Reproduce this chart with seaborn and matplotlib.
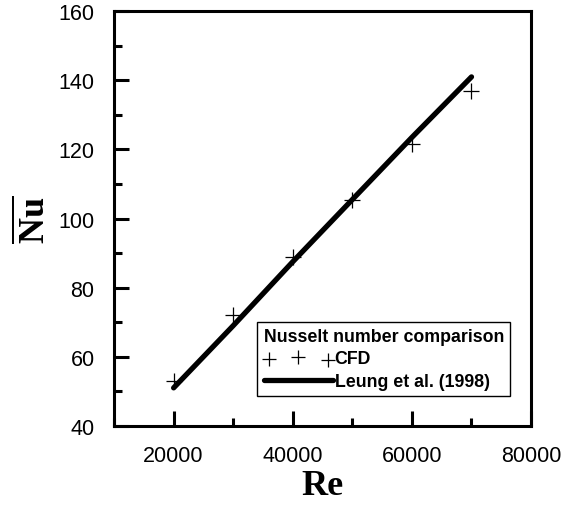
import matplotlib
matplotlib.use("Agg")
import matplotlib.pyplot as plt
import seaborn as sns
import pandas as pd
from matplotlib.ticker import MultipleLocator

# Data
re_cfd = [20000, 30000, 40000, 50000, 60000, 70000]
nu_cfd = [53, 72, 89, 105.5, 121.5, 137]
re_leung = [20000, 30000, 40000, 50000, 60000, 70000]
nu_leung = [51, 69, 87.5, 105.5, 123.5, 141]

df_cfd = pd.DataFrame({"Re": re_cfd, "Nu": nu_cfd})
df_leung = pd.DataFrame({"Re": re_leung, "Nu": nu_leung})

sns.set_style("ticks")
plt.rcParams["font.family"] = ["Liberation Sans", "DejaVu Sans"]
plt.rcParams["mathtext.fontset"] = "custom"
plt.rcParams["mathtext.bf"] = "Liberation Serif:bold"
plt.rcParams["mathtext.rm"] = "Liberation Serif"
for k in ["text.color", "axes.labelcolor", "xtick.color", "ytick.color", "axes.edgecolor"]:
    plt.rcParams[k] = "black"

fig = plt.figure(figsize=(5.76, 5.1), dpi=100)
ax = fig.add_axes([0.198, 0.163, 0.724, 0.813])

sns.lineplot(data=df_leung, x="Re", y="Nu", ax=ax, color="black", linewidth=3.8,
             solid_capstyle="round", label="Leung et al. (1998)")
sns.scatterplot(data=df_cfd, x="Re", y="Nu", ax=ax, marker="+", s=130, color="black",
                linewidth=0.9, label="CFD", zorder=3)

ax.set_xlim(10000, 80000)
ax.set_ylim(40, 160)
ax.xaxis.set_major_locator(MultipleLocator(20000))
ax.xaxis.set_minor_locator(MultipleLocator(10000))
ax.yaxis.set_major_locator(MultipleLocator(20))
ax.yaxis.set_minor_locator(MultipleLocator(10))
ax.tick_params(which="both", direction="in", top=False, right=False, width=2.2)
ax.tick_params(which="major", length=11, labelsize=15.5, pad=14)
ax.tick_params(which="minor", length=6)
for sp in ax.spines.values():
    sp.set_linewidth(2.2)
    sp.set_visible(True)

ax.set_xlabel("Re", fontsize=26, fontweight="bold", family="Liberation Serif", labelpad=2)
ax.set_ylabel(r"$\overline{\mathbf{Nu}}$", fontsize=26, labelpad=4)

# legend: CFD first, then Leung
handles, labels = ax.get_legend_handles_labels()
order = [labels.index("CFD"), labels.index("Leung et al. (1998)")]
leg = ax.legend([handles[i] for i in order], [labels[i] for i in order],
                title="Nusselt number comparison", loc="lower right",
                bbox_to_anchor=(0.95, 0.072), borderaxespad=0, scatterpoints=3,
                handlelength=3.9, handletextpad=0.1, fancybox=False, edgecolor="black",
                framealpha=1, borderpad=0.35, labelspacing=0.3, alignment="left",
                prop={"weight": "bold", "size": 12.8},
                title_fontproperties={"weight": "bold", "size": 12.8})
leg.get_frame().set_linewidth(1.0)
leg.legend_handles[0].set_sizes([100])

fig.savefig("out.png", dpi=100)
